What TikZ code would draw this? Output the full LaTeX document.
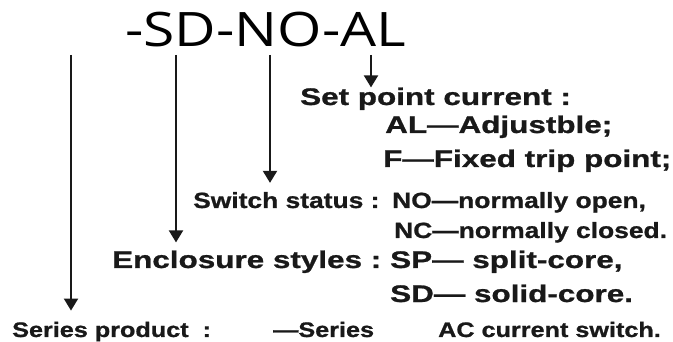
\documentclass[tikz,border=0pt]{standalone}
\usepackage{fontspec}
\usepackage{tikz}
\usetikzlibrary{arrows.meta}
\newfontfamily\titlefont[FakeStretch=1.2]{Open Sans}
\newfontfamily\labelfont[FakeStretch=1.31, BoldFeatures={FakeBold=1}]{Liberation Sans}
\newfontfamily\narrowfont[FakeStretch=1.2, BoldFeatures={FakeBold=1}]{Liberation Sans}

\begin{document}
\begin{tikzpicture}[x=1pt, y=-1pt]
    % Style definitions for the code and the labels
    \tikzset{
        % the code itself
        code text/.style={font=\titlefont\fontsize{47.5}{48}\selectfont, anchor=base west, inner sep=0pt},
        % labels, three sizes
        big text/.style={font=\labelfont\bfseries\fontsize{24}{24}\selectfont, anchor=base west, inner sep=0pt, text=black!90},
        mid text/.style={font=\narrowfont\bfseries\fontsize{22}{22}\selectfont, anchor=base west, inner sep=0pt, text=black!90},
        small text/.style={font=\narrowfont\bfseries\fontsize{21}{21}\selectfont, anchor=base west, inner sep=0pt, text=black!90},
        % pointers
        pointer/.style={line width=2pt, draw=black!90, -{Triangle[width=14pt,length=12pt]}},
        gap/.style={shorten >=#1}
    }
    \useasboundingbox (0,0) rectangle (673,342);

    % The code
    \node[code text] (code) at (125,47) {-SD-NO-AL};

    % Start points under the code
    \coordinate (S1) at (71,55);
    \coordinate (S2) at (176,55);
    \coordinate (S3) at (270,55);
    \coordinate (S4) at (371,55);

    % Set point current
    \node[big text] (setp) at (300,105) {Set point current :};
    \node[big text] (al) at (385,133) {AL—Adjustble;};
    \node[big text] (fix) at (383,167) {F—Fixed\ trip\ point;};

    % Switch status
    \node[mid text] (sw) at (193,208) {Switch status :};
    \node[mid text] (no) at (392,208) {NO—normally open,};
    \node[mid text] (nc) at (394,238) {NC—normally closed.};

    % Enclosure styles
    \node[big text] (enc) at (112,268) {Enclosure styles :};
    \node[big text] (sp) at (390,268) {SP— split-core,};
    \node[big text] (sd) at (390,302) {SD— solid-core.};

    % Series product
    \node[small text] (ser) at (12,337) {Series product\hspace{14pt}:};
    \node[small text] (series) at (273,337) {—Series};
    \node[small text] (ac) at (438,337) {AC current switch.};

    % Pointers from the code to the labels
    \draw[pointer] (S4) -- (S4 |- setp.north);
    \draw[pointer, gap=9pt] (S3) -- (S3 |- sw.north);
    \draw[pointer, gap=8pt] (S2) -- (S2 |- enc.north);
    \draw[pointer, gap=11pt] (S1) -- (S1 |- ser.north);
\end{tikzpicture}
\end{document}
